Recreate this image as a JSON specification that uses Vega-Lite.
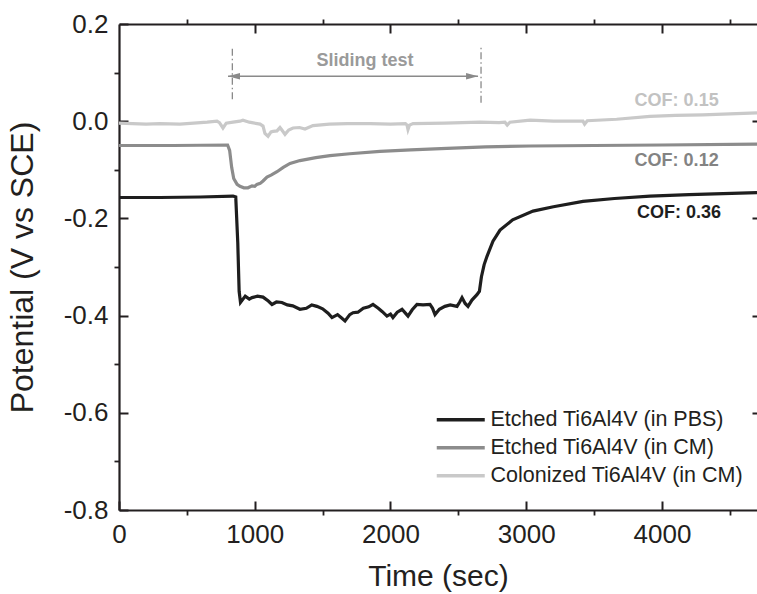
{
  "$schema": "https://vega.github.io/schema/vega-lite/v6.json",
  "autosize": {"type": "none"},
  "width": 638,
  "height": 486,
  "padding": {"left": 119, "top": 24, "right": 0, "bottom": 84},
  "background": "white",
  "config": {
    "font": "Liberation Sans",
    "view": {"stroke": null},
    "axis": {"domainColor": "#231f20", "tickColor": "#231f20", "labelColor": "#231f20", "titleColor": "#231f20", "grid": false, "labelFont": "Liberation Sans", "titleFont": "Liberation Sans", "titleFontWeight": "normal"}
  },
  "datasets": {
    "series": [
      {"t": 0, "v": -0.157, "s": "Etched Ti6Al4V (in PBS)"},
      {"t": 300, "v": -0.157, "s": "Etched Ti6Al4V (in PBS)"},
      {"t": 600, "v": -0.156, "s": "Etched Ti6Al4V (in PBS)"},
      {"t": 840, "v": -0.154, "s": "Etched Ti6Al4V (in PBS)"},
      {"t": 860, "v": -0.156, "s": "Etched Ti6Al4V (in PBS)"},
      {"t": 875, "v": -0.25, "s": "Etched Ti6Al4V (in PBS)"},
      {"t": 885, "v": -0.35, "s": "Etched Ti6Al4V (in PBS)"},
      {"t": 895, "v": -0.373, "s": "Etched Ti6Al4V (in PBS)"},
      {"t": 930, "v": -0.36, "s": "Etched Ti6Al4V (in PBS)"},
      {"t": 960, "v": -0.366, "s": "Etched Ti6Al4V (in PBS)"},
      {"t": 980, "v": -0.363, "s": "Etched Ti6Al4V (in PBS)"},
      {"t": 1020, "v": -0.36, "s": "Etched Ti6Al4V (in PBS)"},
      {"t": 1061, "v": -0.362, "s": "Etched Ti6Al4V (in PBS)"},
      {"t": 1100, "v": -0.37, "s": "Etched Ti6Al4V (in PBS)"},
      {"t": 1127, "v": -0.377, "s": "Etched Ti6Al4V (in PBS)"},
      {"t": 1160, "v": -0.372, "s": "Etched Ti6Al4V (in PBS)"},
      {"t": 1200, "v": -0.373, "s": "Etched Ti6Al4V (in PBS)"},
      {"t": 1240, "v": -0.378, "s": "Etched Ti6Al4V (in PBS)"},
      {"t": 1280, "v": -0.38, "s": "Etched Ti6Al4V (in PBS)"},
      {"t": 1333, "v": -0.387, "s": "Etched Ti6Al4V (in PBS)"},
      {"t": 1380, "v": -0.385, "s": "Etched Ti6Al4V (in PBS)"},
      {"t": 1420, "v": -0.378, "s": "Etched Ti6Al4V (in PBS)"},
      {"t": 1458, "v": -0.381, "s": "Etched Ti6Al4V (in PBS)"},
      {"t": 1500, "v": -0.386, "s": "Etched Ti6Al4V (in PBS)"},
      {"t": 1540, "v": -0.395, "s": "Etched Ti6Al4V (in PBS)"},
      {"t": 1569, "v": -0.404, "s": "Etched Ti6Al4V (in PBS)"},
      {"t": 1610, "v": -0.398, "s": "Etched Ti6Al4V (in PBS)"},
      {"t": 1640, "v": -0.405, "s": "Etched Ti6Al4V (in PBS)"},
      {"t": 1665, "v": -0.411, "s": "Etched Ti6Al4V (in PBS)"},
      {"t": 1700, "v": -0.398, "s": "Etched Ti6Al4V (in PBS)"},
      {"t": 1724, "v": -0.394, "s": "Etched Ti6Al4V (in PBS)"},
      {"t": 1760, "v": -0.393, "s": "Etched Ti6Al4V (in PBS)"},
      {"t": 1800, "v": -0.385, "s": "Etched Ti6Al4V (in PBS)"},
      {"t": 1840, "v": -0.382, "s": "Etched Ti6Al4V (in PBS)"},
      {"t": 1871, "v": -0.377, "s": "Etched Ti6Al4V (in PBS)"},
      {"t": 1910, "v": -0.385, "s": "Etched Ti6Al4V (in PBS)"},
      {"t": 1940, "v": -0.392, "s": "Etched Ti6Al4V (in PBS)"},
      {"t": 1974, "v": -0.401, "s": "Etched Ti6Al4V (in PBS)"},
      {"t": 2000, "v": -0.397, "s": "Etched Ti6Al4V (in PBS)"},
      {"t": 2018, "v": -0.404, "s": "Etched Ti6Al4V (in PBS)"},
      {"t": 2050, "v": -0.393, "s": "Etched Ti6Al4V (in PBS)"},
      {"t": 2085, "v": -0.387, "s": "Etched Ti6Al4V (in PBS)"},
      {"t": 2110, "v": -0.395, "s": "Etched Ti6Al4V (in PBS)"},
      {"t": 2129, "v": -0.401, "s": "Etched Ti6Al4V (in PBS)"},
      {"t": 2160, "v": -0.388, "s": "Etched Ti6Al4V (in PBS)"},
      {"t": 2195, "v": -0.377, "s": "Etched Ti6Al4V (in PBS)"},
      {"t": 2240, "v": -0.378, "s": "Etched Ti6Al4V (in PBS)"},
      {"t": 2291, "v": -0.377, "s": "Etched Ti6Al4V (in PBS)"},
      {"t": 2310, "v": -0.385, "s": "Etched Ti6Al4V (in PBS)"},
      {"t": 2328, "v": -0.398, "s": "Etched Ti6Al4V (in PBS)"},
      {"t": 2360, "v": -0.387, "s": "Etched Ti6Al4V (in PBS)"},
      {"t": 2401, "v": -0.381, "s": "Etched Ti6Al4V (in PBS)"},
      {"t": 2440, "v": -0.378, "s": "Etched Ti6Al4V (in PBS)"},
      {"t": 2490, "v": -0.381, "s": "Etched Ti6Al4V (in PBS)"},
      {"t": 2510, "v": -0.372, "s": "Etched Ti6Al4V (in PBS)"},
      {"t": 2527, "v": -0.363, "s": "Etched Ti6Al4V (in PBS)"},
      {"t": 2550, "v": -0.375, "s": "Etched Ti6Al4V (in PBS)"},
      {"t": 2571, "v": -0.381, "s": "Etched Ti6Al4V (in PBS)"},
      {"t": 2600, "v": -0.368, "s": "Etched Ti6Al4V (in PBS)"},
      {"t": 2637, "v": -0.357, "s": "Etched Ti6Al4V (in PBS)"},
      {"t": 2655, "v": -0.35, "s": "Etched Ti6Al4V (in PBS)"},
      {"t": 2670, "v": -0.32, "s": "Etched Ti6Al4V (in PBS)"},
      {"t": 2690, "v": -0.295, "s": "Etched Ti6Al4V (in PBS)"},
      {"t": 2711, "v": -0.278, "s": "Etched Ti6Al4V (in PBS)"},
      {"t": 2755, "v": -0.247, "s": "Etched Ti6Al4V (in PBS)"},
      {"t": 2807, "v": -0.224, "s": "Etched Ti6Al4V (in PBS)"},
      {"t": 2900, "v": -0.203, "s": "Etched Ti6Al4V (in PBS)"},
      {"t": 3050, "v": -0.185, "s": "Etched Ti6Al4V (in PBS)"},
      {"t": 3200, "v": -0.176, "s": "Etched Ti6Al4V (in PBS)"},
      {"t": 3418, "v": -0.165, "s": "Etched Ti6Al4V (in PBS)"},
      {"t": 3650, "v": -0.159, "s": "Etched Ti6Al4V (in PBS)"},
      {"t": 3912, "v": -0.154, "s": "Etched Ti6Al4V (in PBS)"},
      {"t": 4200, "v": -0.151, "s": "Etched Ti6Al4V (in PBS)"},
      {"t": 4450, "v": -0.149, "s": "Etched Ti6Al4V (in PBS)"},
      {"t": 4700, "v": -0.147, "s": "Etched Ti6Al4V (in PBS)"},
      {"t": 0, "v": -0.05, "s": "Etched Ti6Al4V (in CM)"},
      {"t": 400, "v": -0.05, "s": "Etched Ti6Al4V (in CM)"},
      {"t": 800, "v": -0.049, "s": "Etched Ti6Al4V (in CM)"},
      {"t": 815, "v": -0.06, "s": "Etched Ti6Al4V (in CM)"},
      {"t": 830, "v": -0.095, "s": "Etched Ti6Al4V (in CM)"},
      {"t": 845, "v": -0.118, "s": "Etched Ti6Al4V (in CM)"},
      {"t": 870, "v": -0.13, "s": "Etched Ti6Al4V (in CM)"},
      {"t": 891, "v": -0.134, "s": "Etched Ti6Al4V (in CM)"},
      {"t": 920, "v": -0.137, "s": "Etched Ti6Al4V (in CM)"},
      {"t": 950, "v": -0.137, "s": "Etched Ti6Al4V (in CM)"},
      {"t": 980, "v": -0.133, "s": "Etched Ti6Al4V (in CM)"},
      {"t": 1000, "v": -0.134, "s": "Etched Ti6Al4V (in CM)"},
      {"t": 1016, "v": -0.13, "s": "Etched Ti6Al4V (in CM)"},
      {"t": 1040, "v": -0.128, "s": "Etched Ti6Al4V (in CM)"},
      {"t": 1061, "v": -0.123, "s": "Etched Ti6Al4V (in CM)"},
      {"t": 1090, "v": -0.115, "s": "Etched Ti6Al4V (in CM)"},
      {"t": 1120, "v": -0.111, "s": "Etched Ti6Al4V (in CM)"},
      {"t": 1164, "v": -0.104, "s": "Etched Ti6Al4V (in CM)"},
      {"t": 1210, "v": -0.095, "s": "Etched Ti6Al4V (in CM)"},
      {"t": 1260, "v": -0.087, "s": "Etched Ti6Al4V (in CM)"},
      {"t": 1333, "v": -0.081, "s": "Etched Ti6Al4V (in CM)"},
      {"t": 1450, "v": -0.075, "s": "Etched Ti6Al4V (in CM)"},
      {"t": 1554, "v": -0.071, "s": "Etched Ti6Al4V (in CM)"},
      {"t": 1700, "v": -0.067, "s": "Etched Ti6Al4V (in CM)"},
      {"t": 1923, "v": -0.062, "s": "Etched Ti6Al4V (in CM)"},
      {"t": 2150, "v": -0.059, "s": "Etched Ti6Al4V (in CM)"},
      {"t": 2416, "v": -0.056, "s": "Etched Ti6Al4V (in CM)"},
      {"t": 2700, "v": -0.053, "s": "Etched Ti6Al4V (in CM)"},
      {"t": 3028, "v": -0.051, "s": "Etched Ti6Al4V (in CM)"},
      {"t": 3500, "v": -0.05, "s": "Etched Ti6Al4V (in CM)"},
      {"t": 4000, "v": -0.049, "s": "Etched Ti6Al4V (in CM)"},
      {"t": 4700, "v": -0.047, "s": "Etched Ti6Al4V (in CM)"},
      {"t": 0, "v": -0.004, "s": "Colonized Ti6Al4V (in CM)"},
      {"t": 100, "v": -0.005, "s": "Colonized Ti6Al4V (in CM)"},
      {"t": 200, "v": -0.006, "s": "Colonized Ti6Al4V (in CM)"},
      {"t": 300, "v": -0.005, "s": "Colonized Ti6Al4V (in CM)"},
      {"t": 449, "v": -0.006, "s": "Colonized Ti6Al4V (in CM)"},
      {"t": 550, "v": -0.004, "s": "Colonized Ti6Al4V (in CM)"},
      {"t": 650, "v": -0.002, "s": "Colonized Ti6Al4V (in CM)"},
      {"t": 722, "v": 0.0, "s": "Colonized Ti6Al4V (in CM)"},
      {"t": 740, "v": -0.003, "s": "Colonized Ti6Al4V (in CM)"},
      {"t": 766, "v": -0.014, "s": "Colonized Ti6Al4V (in CM)"},
      {"t": 790, "v": -0.004, "s": "Colonized Ti6Al4V (in CM)"},
      {"t": 840, "v": -0.002, "s": "Colonized Ti6Al4V (in CM)"},
      {"t": 891, "v": 0.0, "s": "Colonized Ti6Al4V (in CM)"},
      {"t": 913, "v": 0.002, "s": "Colonized Ti6Al4V (in CM)"},
      {"t": 960, "v": -0.002, "s": "Colonized Ti6Al4V (in CM)"},
      {"t": 1039, "v": -0.006, "s": "Colonized Ti6Al4V (in CM)"},
      {"t": 1061, "v": -0.01, "s": "Colonized Ti6Al4V (in CM)"},
      {"t": 1075, "v": -0.025, "s": "Colonized Ti6Al4V (in CM)"},
      {"t": 1098, "v": -0.031, "s": "Colonized Ti6Al4V (in CM)"},
      {"t": 1120, "v": -0.022, "s": "Colonized Ti6Al4V (in CM)"},
      {"t": 1135, "v": -0.021, "s": "Colonized Ti6Al4V (in CM)"},
      {"t": 1164, "v": -0.02, "s": "Colonized Ti6Al4V (in CM)"},
      {"t": 1186, "v": -0.013, "s": "Colonized Ti6Al4V (in CM)"},
      {"t": 1200, "v": -0.018, "s": "Colonized Ti6Al4V (in CM)"},
      {"t": 1223, "v": -0.027, "s": "Colonized Ti6Al4V (in CM)"},
      {"t": 1250, "v": -0.018, "s": "Colonized Ti6Al4V (in CM)"},
      {"t": 1282, "v": -0.014, "s": "Colonized Ti6Al4V (in CM)"},
      {"t": 1330, "v": -0.013, "s": "Colonized Ti6Al4V (in CM)"},
      {"t": 1370, "v": -0.016, "s": "Colonized Ti6Al4V (in CM)"},
      {"t": 1429, "v": -0.009, "s": "Colonized Ti6Al4V (in CM)"},
      {"t": 1550, "v": -0.006, "s": "Colonized Ti6Al4V (in CM)"},
      {"t": 1680, "v": -0.005, "s": "Colonized Ti6Al4V (in CM)"},
      {"t": 1850, "v": -0.005, "s": "Colonized Ti6Al4V (in CM)"},
      {"t": 2000, "v": -0.006, "s": "Colonized Ti6Al4V (in CM)"},
      {"t": 2110, "v": -0.005, "s": "Colonized Ti6Al4V (in CM)"},
      {"t": 2122, "v": -0.008, "s": "Colonized Ti6Al4V (in CM)"},
      {"t": 2129, "v": -0.017, "s": "Colonized Ti6Al4V (in CM)"},
      {"t": 2140, "v": -0.008, "s": "Colonized Ti6Al4V (in CM)"},
      {"t": 2166, "v": -0.005, "s": "Colonized Ti6Al4V (in CM)"},
      {"t": 2400, "v": -0.004, "s": "Colonized Ti6Al4V (in CM)"},
      {"t": 2659, "v": -0.002, "s": "Colonized Ti6Al4V (in CM)"},
      {"t": 2800, "v": -0.003, "s": "Colonized Ti6Al4V (in CM)"},
      {"t": 2843, "v": -0.002, "s": "Colonized Ti6Al4V (in CM)"},
      {"t": 2860, "v": -0.008, "s": "Colonized Ti6Al4V (in CM)"},
      {"t": 2880, "v": -0.002, "s": "Colonized Ti6Al4V (in CM)"},
      {"t": 3028, "v": 0.002, "s": "Colonized Ti6Al4V (in CM)"},
      {"t": 3200, "v": 0.0, "s": "Colonized Ti6Al4V (in CM)"},
      {"t": 3418, "v": 0.0, "s": "Colonized Ti6Al4V (in CM)"},
      {"t": 3430, "v": -0.006, "s": "Colonized Ti6Al4V (in CM)"},
      {"t": 3450, "v": 0.001, "s": "Colonized Ti6Al4V (in CM)"},
      {"t": 3666, "v": 0.004, "s": "Colonized Ti6Al4V (in CM)"},
      {"t": 3912, "v": 0.01, "s": "Colonized Ti6Al4V (in CM)"},
      {"t": 4100, "v": 0.012, "s": "Colonized Ti6Al4V (in CM)"},
      {"t": 4300, "v": 0.013, "s": "Colonized Ti6Al4V (in CM)"},
      {"t": 4500, "v": 0.015, "s": "Colonized Ti6Al4V (in CM)"},
      {"t": 4700, "v": 0.017, "s": "Colonized Ti6Al4V (in CM)"}
    ],
    "guides": [{"t": 0, "v": 0}],
    "marks": [{"t": 835, "v1": 0.045, "v2": 0.154}, {"t": 2667, "v1": 0.038, "v2": 0.154}],
    "arrow": [{"t1": 803, "t2": 2645, "v": 0.0926}],
    "headL": [{"t": 803, "v": 0.0926}],
    "headR": [{"t": 2645, "v": 0.0926}],
    "sliding": [{"t": 1812, "v": 0.123, "label": "Sliding test"}],
    "cof15": [{"t": 4108, "v": 0.041, "label": "COF: 0.15"}],
    "cof12": [{"t": 4108, "v": -0.082, "label": "COF: 0.12"}],
    "cof36": [{"t": 4125, "v": -0.189, "label": "COF: 0.36"}]
  },
  "resolve": {"axis": {"x": "independent", "y": "independent"}},
  "layer": [
    {
      "data": {"name": "series"},
      "mark": {"type": "line", "strokeWidth": 3.2, "interpolate": "linear"},
      "encoding": {
        "x": {"field": "t", "type": "quantitative",
          "scale": {"domain": [0, 4700], "nice": false, "zero": false},
          "axis": {"orient": "bottom", "values": [0, 1000, 2000, 3000, 4000], "tickSize": -9, "tickWidth": 2, "domainWidth": 2.2, "labelFontSize": 26, "labelPadding": 20, "labelFlush": false, "labelOverlap": false, "format": "d",
            "title": "Time (sec)", "titleFontSize": 30, "titlePadding": 14}},
        "y": {"field": "v", "type": "quantitative",
          "scale": {"domain": [-0.8, 0.2], "nice": false, "zero": false},
          "axis": {"orient": "left", "values": [-0.8, -0.6, -0.4, -0.2, 0.0, 0.2], "tickSize": -9, "tickWidth": 2, "domainWidth": 2.2, "labelFontSize": 26, "labelPadding": 20, "labelFlush": false, "labelOverlap": false,
            "labelExpr": "datum.value < -0.001 ? '-' + format(-datum.value, '.1f') : format(abs(datum.value), '.1f')",
            "title": "Potential (V vs SCE)", "titleFontSize": 32, "titlePadding": 24}},
        "color": {"field": "s", "type": "nominal",
          "scale": {"domain": ["Etched Ti6Al4V (in PBS)", "Etched Ti6Al4V (in CM)", "Colonized Ti6Al4V (in CM)"], "range": ["#1e1e1e", "#8c8c8c", "#c9c9c9"]},
          "legend": {"title": null, "orient": "none", "legendX": 331, "legendY": 385, "padding": 0,
            "symbolType": "M-3,0H3", "symbolSize": 256, "symbolStrokeWidth": 3.5,
            "labelFontSize": 21.5, "labelColor": "#231f20", "labelFont": "Liberation Sans", "labelOffset": 19, "rowPadding": 5, "labelLimit": 400}}
      }
    },
    {
      "data": {"name": "guides"},
      "mark": {"type": "point", "opacity": 0},
      "encoding": {
        "x": {"field": "t", "type": "quantitative", "scale": {"domain": [0, 4700], "nice": false, "zero": false},
          "axis": {"orient": "bottom", "values": [500, 1500, 2500, 3500, 4500], "tickSize": 5, "tickWidth": 1.8, "labels": false, "domain": false, "title": null}},
        "y": {"field": "v", "type": "quantitative", "scale": {"domain": [-0.8, 0.2], "nice": false, "zero": false},
          "axis": {"orient": "left", "values": [-0.7, -0.5, -0.3, -0.1, 0.1], "tickSize": 5, "tickWidth": 1.8, "labels": false, "domain": false, "title": null}}
      }
    },
    {
      "data": {"name": "guides"},
      "mark": {"type": "point", "opacity": 0},
      "encoding": {
        "x": {"field": "t", "type": "quantitative", "scale": {"domain": [0, 4700], "nice": false, "zero": false},
          "axis": {"orient": "top", "values": [1000, 2000, 3000, 4000], "tickSize": -9, "tickWidth": 2, "domainWidth": 2.2, "labels": false, "domain": true, "title": null}},
        "y": {"field": "v", "type": "quantitative", "scale": {"domain": [-0.8, 0.2], "nice": false, "zero": false},
          "axis": {"orient": "right", "values": [-0.6, -0.4, -0.2, 0.0], "tickSize": -5, "tickWidth": 2, "labels": false, "domain": false, "title": null}}
      }
    },
    {
      "data": {"name": "guides"},
      "mark": {"type": "point", "opacity": 0},
      "encoding": {
        "x": {"field": "t", "type": "quantitative", "scale": {"domain": [0, 4700], "nice": false, "zero": false},
          "axis": {"orient": "top", "values": [500, 1500, 2500, 3500, 4500], "tickSize": 5, "tickWidth": 1.8, "labels": false, "domain": false, "title": null}},
        "y": {"field": "v", "type": "quantitative", "scale": {"domain": [-0.8, 0.2], "nice": false, "zero": false}, "axis": null}
      }
    },
    {
      "data": {"name": "marks"},
      "mark": {"type": "rule", "color": "#8a8a8a", "strokeWidth": 1.3, "strokeDash": [7, 3, 1.5, 3]},
      "encoding": {
        "x": {"field": "t", "type": "quantitative", "axis": null},
        "y": {"field": "v1", "type": "quantitative", "axis": null},
        "y2": {"field": "v2"}
      }
    },
    {
      "data": {"name": "arrow"},
      "mark": {"type": "rule", "color": "#8a8a8a", "strokeWidth": 1.5},
      "encoding": {
        "x": {"field": "t1", "type": "quantitative", "axis": null},
        "x2": {"field": "t2"},
        "y": {"field": "v", "type": "quantitative", "axis": null}
      }
    },
    {
      "data": {"name": "headL"},
      "mark": {"type": "point", "shape": "M0,0L2,-0.55L2,0.55Z", "size": 144, "filled": true, "color": "#8a8a8a", "opacity": 1},
      "encoding": {
        "x": {"field": "t", "type": "quantitative", "axis": null},
        "y": {"field": "v", "type": "quantitative", "axis": null}
      }
    },
    {
      "data": {"name": "headR"},
      "mark": {"type": "point", "shape": "M0,0L-2,-0.55L-2,0.55Z", "size": 144, "filled": true, "color": "#8a8a8a", "opacity": 1},
      "encoding": {
        "x": {"field": "t", "type": "quantitative", "axis": null},
        "y": {"field": "v", "type": "quantitative", "axis": null}
      }
    },
    {
      "data": {"name": "sliding"},
      "mark": {"type": "text", "fontSize": 18, "fontWeight": "bold", "color": "#9a9a9a", "align": "center", "baseline": "middle", "font": "Liberation Sans"},
      "encoding": {
        "x": {"field": "t", "type": "quantitative", "axis": null},
        "y": {"field": "v", "type": "quantitative", "axis": null},
        "text": {"field": "label"}
      }
    },
    {
      "data": {"name": "cof15"},
      "mark": {"type": "text", "fontSize": 18, "fontWeight": "bold", "color": "#c2c2c2", "align": "center", "baseline": "middle", "font": "Liberation Sans"},
      "encoding": {
        "x": {"field": "t", "type": "quantitative", "axis": null},
        "y": {"field": "v", "type": "quantitative", "axis": null},
        "text": {"field": "label"}
      }
    },
    {
      "data": {"name": "cof12"},
      "mark": {"type": "text", "fontSize": 18, "fontWeight": "bold", "color": "#838383", "align": "center", "baseline": "middle", "font": "Liberation Sans"},
      "encoding": {
        "x": {"field": "t", "type": "quantitative", "axis": null},
        "y": {"field": "v", "type": "quantitative", "axis": null},
        "text": {"field": "label"}
      }
    },
    {
      "data": {"name": "cof36"},
      "mark": {"type": "text", "fontSize": 18, "fontWeight": "bold", "color": "#1e1e1e", "align": "center", "baseline": "middle", "font": "Liberation Sans"},
      "encoding": {
        "x": {"field": "t", "type": "quantitative", "axis": null},
        "y": {"field": "v", "type": "quantitative", "axis": null},
        "text": {"field": "label"}
      }
    }
  ]
}
